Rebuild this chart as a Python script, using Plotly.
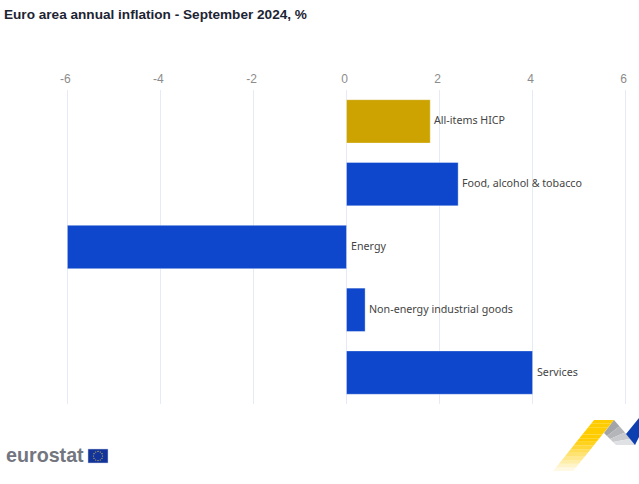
import math
import plotly.graph_objects as go

categories = ["All-items HICP", "Food, alcohol & tobacco", "Energy", "Non-energy industrial goods", "Services"]
values = [1.8, 2.4, -6.0, 0.4, 4.0]
colors = ["#cca300", "#0e47cb", "#0e47cb", "#0e47cb", "#0e47cb"]
tick_values = [-6, -4, -2, 0, 2, 4, 6]
tick_labels = ["-6", "-4", "-2", "0", "2", "4", "6"]
title_text = "Euro area annual inflation - September 2024, %"

W, H = 639, 484
L, R, T, B = 66, 12, 90, 80


def px(x):
    return (x - L) / (W - L - R)


def py(y):
    return 1 - (y - T) / (H - T - B)


def path(points):
    return "M" + " L".join(f"{px(x):.4f},{py(y):.4f}" for x, y in points) + " Z"


fig = go.Figure(go.Bar(
    y=categories,
    x=values,
    orientation="h",
    marker=dict(color=colors, line=dict(color="rgba(255,255,255,0.35)", width=1)),
    hoverinfo="x+y",
))

annotations = [
    dict(x=max(v, 0), y=c, xref="x", yref="y", text=c, showarrow=False, xanchor="left",
         xshift=2, yshift=1, font=dict(family="Noto Sans", size=10.7, color="#444444"))
    for c, v in zip(categories, values)
]
annotations.append(dict(x=px(3), y=py(15), xref="paper", yref="paper", text=f"<b>{title_text}</b>",
                        showarrow=False, xanchor="left", yanchor="middle", xshift=-1,
                        font=dict(family="Liberation Sans", size=13.6, color="#1d2433")))
annotations.append(dict(x=px(5), y=py(455), xref="paper", yref="paper", text="<b>eurostat</b>",
                        showarrow=False, xanchor="left", yanchor="middle", xshift=-1,
                        font=dict(family="Liberation Sans", size=19.7, color="#73757f")))

shapes = [
    dict(type="rect", xref="paper", yref="paper", x0=px(88), x1=px(108), y0=py(449), y1=py(463),
         fillcolor="#12349a", line=dict(color="#c9cce0", width=0.5)),
]
for i in range(12):
    a = i * math.pi / 6
    cx, cy = 98 + 4.6 * math.cos(a), 456 + 4.6 * math.sin(a)
    shapes.append(dict(type="circle", xref="paper", yref="paper",
                       x0=px(cx - 0.6), x1=px(cx + 0.6), y0=py(cy - 0.6), y1=py(cy + 0.6),
                       fillcolor="#e0c040", line=dict(width=0)))

# Decorative ribbon, faded in steps towards the bottom-left
steps = 14
for i in range(steps):
    t0, t1 = i / steps, (i + 1) / steps
    y0, y1 = 420 + 51 * t0, 420 + 51 * t1
    xl = lambda y: 594 - (y - 420) * 0.8
    xr = lambda y: 614 - (y - 420) * 0.8
    op = min(1.0, 1.55 * (1 - t0))
    shapes.append(dict(type="path", xref="paper", yref="paper",
                       path=path([(xl(y0), y0), (xr(y0), y0), (xr(y1), y1), (xl(y1), y1)]),
                       fillcolor="#ffcc00", opacity=op, line=dict(width=0)))
grey_steps = [("#a3a4a8", 0.0), ("#b4b5b9", 0.25), ("#c9cacd", 0.5), ("#e0e1e4", 0.75)]
for col, t in grey_steps:
    t1 = t + 0.25
    shapes.append(dict(type="path", xref="paper", yref="paper",
                       path=path([(614 + 22 * t, 420 + 25 * t), (604 + 12 * t, 433 + 12 * t),
                                  (604 + 12 * t1, 433 + 12 * t1), (614 + 22 * t1, 420 + 25 * t1)]),
                       fillcolor=col, line=dict(width=0)))
shapes.append(dict(type="path", xref="paper", yref="paper",
                   path=path([(639, 418), (639, 437), (635, 445), (626, 434)]),
                   fillcolor="#0e3fb0", line=dict(width=0)))

fig.update_layout(
    width=W, height=H,
    margin=dict(l=L, r=R, t=T, b=B, pad=0),
    paper_bgcolor="white", plot_bgcolor="white",
    showlegend=False, bargap=0.31,
    annotations=annotations, shapes=shapes,
    xaxis=dict(side="top", range=[-6.03, 6.03], tickvals=tick_values, ticktext=tick_labels,
               showgrid=True, gridcolor="#e6eaf6", gridwidth=1,
               zeroline=True, zerolinecolor="#e6eaf6", zerolinewidth=1, showline=False, ticks="",
               tickfont=dict(family="Liberation Sans", size=12, color="#8c8c8c"), ticklabelstandoff=4,
               ticklabelshift=-2),
    yaxis=dict(autorange="reversed", showticklabels=False, showgrid=False, zeroline=False, ticks=""),
)

fig.write_html("out.html", config=dict(displayModeBar=False), post_script="document.body.style.margin='0';")
